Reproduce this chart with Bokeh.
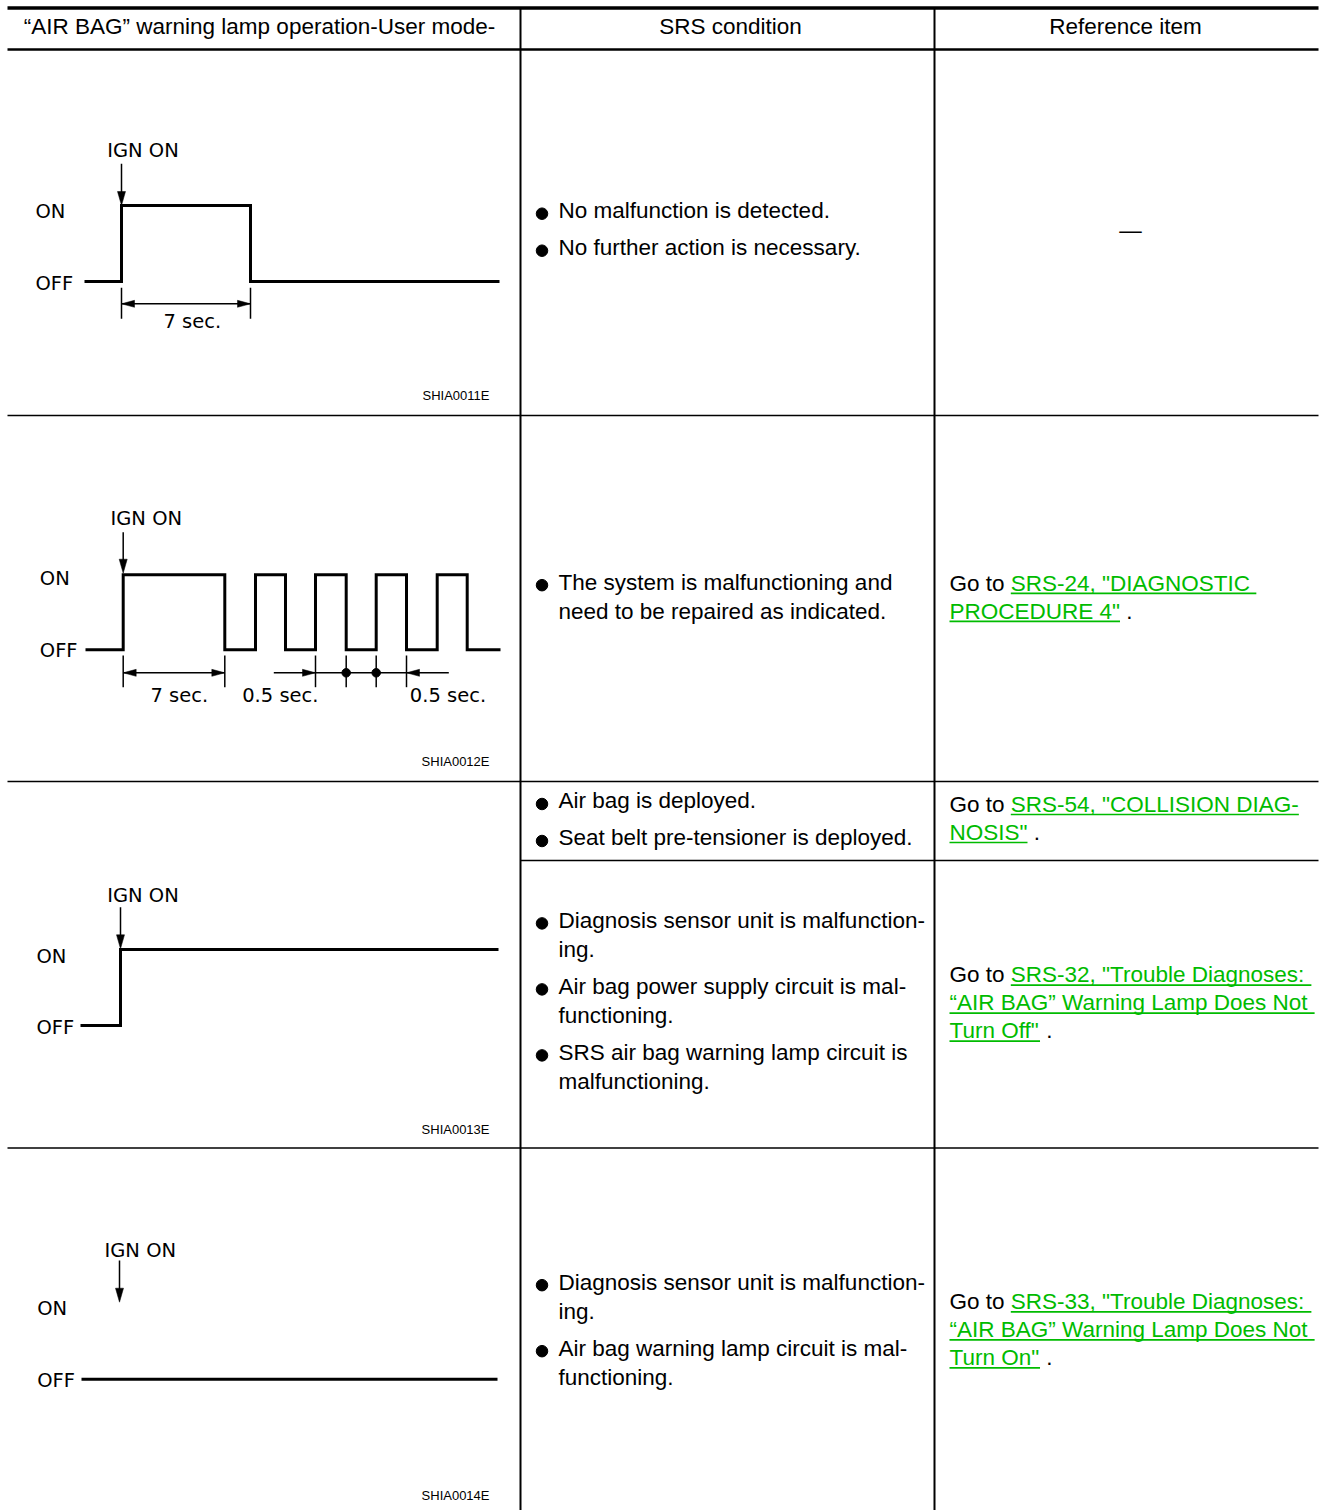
from bokeh.plotting import figure
from bokeh.models import Range1d
from bokeh.core.properties import value
from bokeh.embed import file_html
from bokeh.resources import INLINE

# ---------------- data ----------------
HEADERS = ["\u201cAIR BAG\u201d warning lamp operation-User mode-", "SRS condition", "Reference item"]

# waveform edges (diagram x units) and lamp levels (1 = ON, 0 = OFF), step "after"
WAVE1_X = [84, 121, 250, 499]
WAVE1_LEVEL = [0, 1, 0, 0]
WAVE2_X = [85, 122.7, 224.3, 255, 285, 315, 345.7, 375.7, 406, 436.7, 466.7, 500]
WAVE2_LEVEL = [0, 1, 0, 1, 0, 1, 0, 1, 0, 1, 0, 0]
WAVE3_X = [80, 120, 498]
WAVE3_LEVEL = [0, 1, 1]
WAVE4_X = [81, 497]
WAVE4_LEVEL = [0, 0]

FIG_CODES = ["SHIA0011E", "SHIA0012E", "SHIA0013E", "SHIA0014E"]
DIAG_LABELS = ["IGN ON", "ON", "OFF"]
TIME_LABELS_1 = ["7 sec."]
TIME_LABELS_2 = ["7 sec.", "0.5 sec.", "0.5 sec."]

COND = [
    [["No malfunction is detected."], ["No further action is necessary."]],
    [["The system is malfunctioning and", "need to be repaired as indicated."]],
    [["Air bag is deployed."], ["Seat belt pre-tensioner is deployed."]],
    [["Diagnosis sensor unit is malfunction-", "ing."],
     ["Air bag power supply circuit is mal-", "functioning."],
     ["SRS air bag warning lamp circuit is", "malfunctioning."]],
    [["Diagnosis sensor unit is malfunction-", "ing."],
     ["Air bag warning lamp circuit is mal-", "functioning."]],
]

REFS = [
    None,
    [[("Go to ", False), ("SRS-24, \"DIAGNOSTIC ", True)],
     [("PROCEDURE 4\"", True), (" .", False)]],
    [[("Go to ", False), ("SRS-54, \"COLLISION DIAG-", True)],
     [("NOSIS\"", True), (" .", False)]],
    [[("Go to ", False), ("SRS-32, \"Trouble Diagnoses: ", True)],
     [("\u201cAIR BAG\u201d Warning Lamp Does Not ", True)],
     [("Turn Off\"", True), (" .", False)]],
    [[("Go to ", False), ("SRS-33, \"Trouble Diagnoses: ", True)],
     [("\u201cAIR BAG\u201d Warning Lamp Does Not ", True)],
     [("Turn On\"", True), (" .", False)]],
]
NO_REF = "\u2014"

# ---------------- layout / style ----------------
BODY = 22.5
DSZ = 19.5
CSZ = 13
FONT = value("Liberation Sans")
DFONT = value("DejaVu Sans")
GREEN = "#00bb00"
BLACK = "#000000"
SHIFT = 0.35  # svg text placement correction (fraction of font size)

AW = {' ': 278, '"': 355, '\u201c': 333, '\u201d': 333, ',': 278, '-': 333, '.': 278, ':': 278,
      'A': 667, 'B': 667, 'C': 722, 'D': 722, 'E': 667, 'F': 611, 'G': 778, 'H': 722, 'I': 278,
      'J': 500, 'K': 667, 'L': 556, 'M': 833, 'N': 722, 'O': 778, 'P': 667, 'Q': 778, 'R': 722,
      'S': 667, 'T': 611, 'U': 722, 'V': 667, 'W': 944, 'X': 667, 'Y': 667, 'Z': 611,
      'a': 556, 'b': 556, 'c': 500, 'd': 556, 'e': 556, 'f': 278, 'g': 556, 'h': 556, 'i': 222,
      'j': 222, 'k': 500, 'l': 222, 'm': 833, 'n': 556, 'o': 556, 'p': 556, 'q': 556, 'r': 333,
      's': 500, 't': 278, 'u': 556, 'v': 500, 'w': 722, 'x': 500, 'y': 500, 'z': 500}
for d in "0123456789":
    AW[d] = 556


def tw(s, size=BODY):
    return sum(AW.get(c, 556) for c in s) * size / 1000.0


def put_text(xs, ys, texts, size, font=FONT, align="left", color=BLACK):
    ys2 = [y - SHIFT * size for y in ys]
    p.text(x=xs, y=ys2, text=texts, text_font=font, text_font_size=f"{size}px",
           text_align=align, text_baseline="alphabetic", text_color=color)


W, H = 1320, 1510
p = figure(width=W, height=H, x_range=Range1d(0, W), y_range=Range1d(H, 0),
           output_backend="svg", toolbar_location=None, min_border=0)
p.xaxis.visible = False
p.yaxis.visible = False
p.xgrid.visible = False
p.ygrid.visible = False
p.outline_line_color = None
p.background_fill_color = "white"
p.border_fill_color = "white"
p.min_border_left = p.min_border_right = p.min_border_top = p.min_border_bottom = 0

# table rules
T_L, T_R, T_B = 7, 1318, 1511
COL_X = [520, 934]
ROW_Y = [415, 781, 1147.5]
SUB_Y = 860
p.segment(x0=[T_L], y0=[7.5], x1=[T_R], y1=[7.5], line_width=3.5, line_color=BLACK)
p.segment(x0=[T_L], y0=[49], x1=[T_R], y1=[49], line_width=2.5, line_color=BLACK)
p.segment(x0=COL_X, y0=[7, 7], x1=COL_X, y1=[T_B, T_B], line_width=2, line_color=BLACK)
p.segment(x0=[T_L] * 3, y0=ROW_Y, x1=[T_R] * 3, y1=ROW_Y, line_width=1.6, line_color=BLACK)
p.segment(x0=[COL_X[0]], y0=[SUB_Y], x1=[T_R], y1=[SUB_Y], line_width=1.6, line_color=BLACK)

# header
put_text([259, 730, 1125], [33.5] * 3, HEADERS, BODY, align="center")

# ---------------- SRS condition column ----------------
COND_FIRST = [218, 589.5, 808.3, 927.7, 1289.5]
bx, by, cx, cy, ct = [], [], [], [], []
for cell, y0 in zip(COND, COND_FIRST):
    y = y0
    for bullet in cell:
        bx.append(541.5)
        by.append(y - 4.8)
        for i, line in enumerate(bullet):
            cx.append(558)
            cy.append(y)
            ct.append(line)
            y += 29 if i < len(bullet) - 1 else 37
p.scatter(x=bx, y=by, marker="circle", size=11.5, color=BLACK)
put_text(cx, cy, ct, BODY)

# ---------------- Reference item column ----------------
REF_FIRST = [237.5, 590.5, 811.7, 982.3, 1309]
kx, ky, kt, gx, gy, gt = [], [], [], [], [], []
ux0, ux1, uy = [], [], []
for cell, y0 in zip(REFS, REF_FIRST):
    if cell is None:
        put_text([1130], [y0], [NO_REF], BODY, align="center")
        continue
    y = y0
    for line in cell:
        x = 949
        for seg, link in line:
            w = tw(seg)
            lead = len(seg) - len(seg.lstrip(" "))
            shown = seg.strip(" ")
            x_shown = x + tw(seg[:lead])
            if link:
                gx.append(x_shown); gy.append(y); gt.append(shown)
                ux0.append(x); ux1.append(x + w); uy.append(y + 2.3)
            else:
                kx.append(x_shown); ky.append(y); kt.append(shown)
            x += w
        y += 28
put_text(kx, ky, kt, BODY)
put_text(gx, gy, gt, BODY, color=GREEN)
p.segment(x0=ux0, y0=uy, x1=ux1, y1=uy, line_width=1.7, line_color=GREEN)

# ---------------- diagrams ----------------
heads_x, heads_y = [], []


def head(tx, ty, dx, dy, L, Wd):
    bxh, byh = tx - L * dx, ty - L * dy
    px, py = -dy, dx
    heads_x.append([tx, bxh + Wd * px, bxh - Wd * px])
    heads_y.append([ty, byh + Wd * py, byh - Wd * py])


DIAGS = [
    dict(wx=WAVE1_X, wl=WAVE1_LEVEL, on=205, off=281,
         ign=(106.7, 157.3), arrow=(121, 163.3, 205), on_lab=(35, 218.3), off_lab=(35, 290),
         code_y=400),
    dict(wx=WAVE2_X, wl=WAVE2_LEVEL, on=574.3, off=649.3,
         ign=(110, 525), arrow=(122.7, 531.7, 572.7), on_lab=(39.3, 585), off_lab=(39.3, 656.7),
         code_y=766),
    dict(wx=WAVE3_X, wl=WAVE3_LEVEL, on=949, off=1025,
         ign=(106.7, 902.3), arrow=(120, 906.7, 948.3), on_lab=(36, 962.7), off_lab=(36, 1034),
         code_y=1133.3),
    dict(wx=WAVE4_X, wl=WAVE4_LEVEL, on=1302, off=1378.7,
         ign=(104, 1256.7), arrow=(119, 1260, 1301.7), on_lab=(36.7, 1315), off_lab=(36.7, 1386.7),
         code_y=1499.3),
]

lx, ly, lt = [], [], []
sx0, sy0, sx1, sy1 = [], [], [], []
for d, code in zip(DIAGS, FIG_CODES):
    ys = [d["off"] + lv * (d["on"] - d["off"]) for lv in d["wl"]]
    p.step(x=d["wx"], y=ys, mode="after", line_width=3, line_color=BLACK, line_join="miter")
    ax, ay0, ay1 = d["arrow"]
    sx0.append(ax); sy0.append(ay0); sx1.append(ax); sy1.append(ay1 - 6)
    head(ax, ay1, 0, 1, 14, 4)
    for lab, pos in zip(DIAG_LABELS, [d["ign"], d["on_lab"], d["off_lab"]]):
        lx.append(pos[0]); ly.append(pos[1]); lt.append(lab)
    put_text([489], [d["code_y"]], [code], CSZ, align="right")

# timing dimensions, row 1
t0, t1 = WAVE1_X[1], WAVE1_X[2]
tick_x = [t0, t1]
tick_y = [(287.3, 318.3)] * 2
sx0 += [t0]; sy0 += [303.3]; sx1 += [t1]; sy1 += [303.3]
head(t0, 303.3, -1, 0, 13, 3.5)
head(t1, 303.3, 1, 0, 13, 3.5)
lx.append(163); ly.append(328.3); lt.append(TIME_LABELS_1[0])

# timing dimensions, row 2
a0, a1 = WAVE2_X[1], WAVE2_X[2]
m = WAVE2_X[5:9]
for tx in [a0, a1] + m:
    tick_x.append(tx)
    tick_y.append((655, 686.7))
DY = 672.3
sx0 += [a0, m[0] - 41.7]; sy0 += [DY, DY]; sx1 += [a1, m[-1] + 42.3]; sy1 += [DY, DY]
head(a0, DY, -1, 0, 13, 3.5)
head(a1, DY, 1, 0, 13, 3.5)
head(m[0], DY, 1, 0, 13, 3.5)
head(m[-1], DY, -1, 0, 13, 3.5)
p.scatter(x=m[1:3], y=[DY, DY], marker="circle", size=8.5, color=BLACK)
for lab, x in zip(TIME_LABELS_2, [150, 241.7, 409.3]):
    lx.append(x); ly.append(701.7); lt.append(lab)

p.segment(x0=tick_x, y0=[t[0] for t in tick_y], x1=tick_x, y1=[t[1] for t in tick_y],
          line_width=1.5, line_color=BLACK)
p.segment(x0=sx0, y0=sy0, x1=sx1, y1=sy1, line_width=1.5, line_color=BLACK)
p.patches(xs=heads_x, ys=heads_y, fill_color=BLACK, line_color=BLACK, line_width=0.5)
put_text(lx, ly, lt, DSZ, font=DFONT)

open("out.html", "w").write(file_html(p, INLINE))
